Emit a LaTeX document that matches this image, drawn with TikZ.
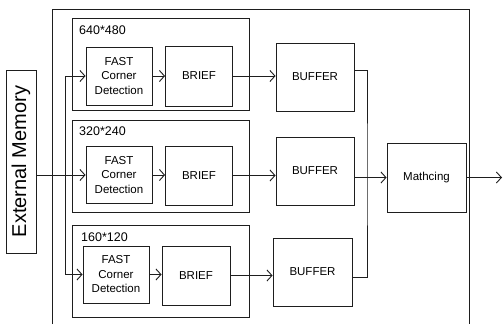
\documentclass[tikz,border=0pt]{standalone}
\usepackage{fontspec}
\setmainfont{Liberation Sans}
\usepackage{tikz}
\usetikzlibrary{arrows.meta, positioning, calc}
\definecolor{lineblack}{RGB}{30, 30, 30}

\tikzset{
    block/.style={draw=lineblack, line width=0.9pt, align=center, inner sep=0pt,
        font=\fontsize{11.5}{14.5}\selectfont},
    group/.style={draw=lineblack, line width=0.9pt, minimum width=177pt, minimum height=92pt, inner sep=0pt},
    reslabel/.style={anchor=west, inner sep=0pt, font=\fontsize{12.5}{14}\selectfont},
    flow/.style={draw=lineblack, line width=0.9pt, -{Straight Barb[length=5pt,width=11pt]}},
    wire/.style={draw=lineblack, line width=0.9pt}
}

\begin{document}
\begin{tikzpicture}[x=1pt, y=-1pt]
    \useasboundingbox (0,0) rectangle (503,324);

    % Outer frame (open at the bottom)
    \draw[wire] (52,324) |- (469,9) -- (469,324);

    % External memory
    \node[block, rotate=90, minimum width=183pt, minimum height=30pt,
        font=\fontsize{20}{24}\selectfont] (extmem) at (21,161.5) {External Memory};

    % Resolution groups
    \node[group] (g1) at (160.5,64) {};
    \node[reslabel] at (79,30) {640*480};
    \node[group] (g2) at (160.5,166) {};
    \node[reslabel] at (79,131) {320*240};
    \node[group] (g3) at (160.5,271) {};
    \node[reslabel] at (81,237) {160*120};

    % FAST and BRIEF
    \node[block, minimum width=66pt, minimum height=58pt] (fast1) at (119,76) {FAST\\Corner\\Detection};
    \node[block, minimum width=67pt, minimum height=60pt] (brief1) at (199,76) {BRIEF};
    \node[block, minimum width=66pt, minimum height=57pt] (fast2) at (119,175) {FAST\\Corner\\Detection};
    \node[block, minimum width=67pt, minimum height=59pt] (brief2) at (199,175.5) {BRIEF};
    \node[block, minimum width=66pt, minimum height=57pt] (fast3) at (116,274.5) {FAST\\Corner\\Detection};
    \node[block, minimum width=68pt, minimum height=59pt] (brief3) at (196,275.5) {BRIEF};

    % Buffers and matching
    \node[block, minimum width=78pt, minimum height=68pt] (buffer1) at (315,77) {BUFFER};
    \node[block, minimum width=78pt, minimum height=68pt] (buffer2) at (315,171) {BUFFER};
    \node[block, minimum width=79pt, minimum height=68pt] (buffer3) at (312.5,272) {BUFFER};
    \node[block, minimum width=79pt, minimum height=69pt] (matching) at (426.5,177.5) {Mathcing};

    \coordinate (bus) at (65,175);
    \coordinate (join) at (367,175);
    \coordinate (out) at (502,177.5);

    % Connectors
    \draw[flow] (extmem.south |- fast2) -- (fast2);
    \draw[wire] (bus |- fast1) -- (bus |- fast3);
    \draw[flow] (bus |- fast1) -- (fast1);
    \draw[flow] (bus |- fast3) -- (fast3);

    \draw[flow] (fast1) -- (brief1);
    \draw[flow] (fast2) -- (brief2.west |- fast2);
    \draw[flow] (fast3) -- (brief3.west |- fast3);

    \draw[flow] (brief1) -- (buffer1.west |- brief1);
    \draw[flow] (brief2) -- (buffer2.west |- brief2);
    \draw[flow] (brief3) -- (buffer3.west |- brief3);

    \draw[wire] ([yshift=7pt]buffer1.east) -| (join) |- ([yshift=-5pt]buffer3.east);
    \draw[flow] (buffer2.east |- matching) -- (matching);
    \draw[flow] (matching) -- (out);
\end{tikzpicture}
\end{document}
